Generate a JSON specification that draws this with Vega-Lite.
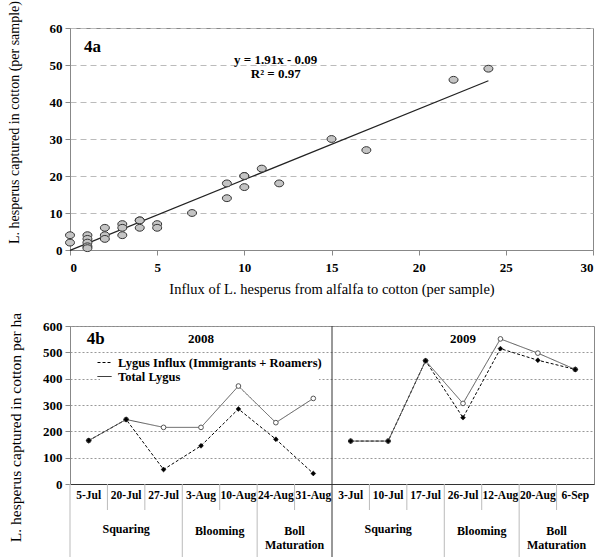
{
  "$schema": "https://vega.github.io/schema/vega-lite/v6.json",
  "padding": {"left": 6, "top": 0, "right": 0, "bottom": 0},
  "background": "white",
  "config": {
    "font": "Liberation Serif",
    "view": {"stroke": "#888"},
    "axis": {
      "labelFont": "Liberation Serif", "labelFontWeight": "bold", "labelFontSize": 13, "labelColor": "#000",
      "titleFont": "Liberation Serif", "titleFontWeight": "normal", "titleFontSize": 16, "titleColor": "#000",
      "domainColor": "#888", "tickColor": "#888", "tickSize": 5
    }
  },
  "datasets": {
    "scatter": [
      {"influx": 0, "captured": 4}, {"influx": 0, "captured": 2},
      {"influx": 1, "captured": 4}, {"influx": 1, "captured": 3}, {"influx": 1, "captured": 2}, {"influx": 1, "captured": 1}, {"influx": 1, "captured": 0.5},
      {"influx": 2, "captured": 6}, {"influx": 2, "captured": 4}, {"influx": 2, "captured": 3},
      {"influx": 3, "captured": 7}, {"influx": 3, "captured": 6}, {"influx": 3, "captured": 4},
      {"influx": 4, "captured": 8}, {"influx": 4, "captured": 8}, {"influx": 4, "captured": 6},
      {"influx": 5, "captured": 7}, {"influx": 5, "captured": 6},
      {"influx": 7, "captured": 10},
      {"influx": 9, "captured": 18}, {"influx": 9, "captured": 14},
      {"influx": 10, "captured": 20}, {"influx": 10, "captured": 20}, {"influx": 10, "captured": 17},
      {"influx": 11, "captured": 22},
      {"influx": 12, "captured": 18},
      {"influx": 15, "captured": 30},
      {"influx": 17, "captured": 27},
      {"influx": 22, "captured": 46},
      {"influx": 24, "captured": 49}
    ],
    "fit": [{"influx": 0, "captured": -0.09}, {"influx": 24, "captured": 45.75}],
    "dates": [
      {"d": "5-Jul"}, {"d": "20-Jul"}, {"d": "27-Jul"}, {"d": "3-Aug"}, {"d": "10-Aug"}, {"d": "24-Aug"}, {"d": "31-Aug"},
      {"d": "3-Jul"}, {"d": "10-Jul"}, {"d": "17-Jul"}, {"d": "26-Jul"}, {"d": "12-Aug"}, {"d": "20-Aug"}, {"d": "6-Sep"}
    ],
    "lygus": [
      {"series": "Lygus Influx (Immigrants + Roamers)", "year": "2008", "date": "5-Jul", "value": 165},
      {"series": "Lygus Influx (Immigrants + Roamers)", "year": "2008", "date": "20-Jul", "value": 245},
      {"series": "Lygus Influx (Immigrants + Roamers)", "year": "2008", "date": "27-Jul", "value": 55},
      {"series": "Lygus Influx (Immigrants + Roamers)", "year": "2008", "date": "3-Aug", "value": 145},
      {"series": "Lygus Influx (Immigrants + Roamers)", "year": "2008", "date": "10-Aug", "value": 285},
      {"series": "Lygus Influx (Immigrants + Roamers)", "year": "2008", "date": "24-Aug", "value": 170},
      {"series": "Lygus Influx (Immigrants + Roamers)", "year": "2008", "date": "31-Aug", "value": 40},
      {"series": "Total Lygus", "year": "2008", "date": "5-Jul", "value": 165},
      {"series": "Total Lygus", "year": "2008", "date": "20-Jul", "value": 245},
      {"series": "Total Lygus", "year": "2008", "date": "27-Jul", "value": 215},
      {"series": "Total Lygus", "year": "2008", "date": "3-Aug", "value": 215},
      {"series": "Total Lygus", "year": "2008", "date": "10-Aug", "value": 372},
      {"series": "Total Lygus", "year": "2008", "date": "24-Aug", "value": 233},
      {"series": "Total Lygus", "year": "2008", "date": "31-Aug", "value": 325},
      {"series": "Lygus Influx (Immigrants + Roamers)", "year": "2009", "date": "3-Jul", "value": 163},
      {"series": "Lygus Influx (Immigrants + Roamers)", "year": "2009", "date": "10-Jul", "value": 163},
      {"series": "Lygus Influx (Immigrants + Roamers)", "year": "2009", "date": "17-Jul", "value": 468},
      {"series": "Lygus Influx (Immigrants + Roamers)", "year": "2009", "date": "26-Jul", "value": 252},
      {"series": "Lygus Influx (Immigrants + Roamers)", "year": "2009", "date": "12-Aug", "value": 514},
      {"series": "Lygus Influx (Immigrants + Roamers)", "year": "2009", "date": "20-Aug", "value": 470},
      {"series": "Lygus Influx (Immigrants + Roamers)", "year": "2009", "date": "6-Sep", "value": 435},
      {"series": "Total Lygus", "year": "2009", "date": "3-Jul", "value": 163},
      {"series": "Total Lygus", "year": "2009", "date": "10-Jul", "value": 163},
      {"series": "Total Lygus", "year": "2009", "date": "17-Jul", "value": 468},
      {"series": "Total Lygus", "year": "2009", "date": "26-Jul", "value": 306},
      {"series": "Total Lygus", "year": "2009", "date": "12-Aug", "value": 551},
      {"series": "Total Lygus", "year": "2009", "date": "20-Aug", "value": 497},
      {"series": "Total Lygus", "year": "2009", "date": "6-Sep", "value": 435}
    ]
  },
  "spacing": 76,
  "bounds": "flush",
  "vconcat": [
    {
      "width": 523,
      "height": 222,
      "layer": [
        {
          "data": {"name": "fit"},
          "mark": {"type": "line", "color": "#222", "strokeWidth": 1.2},
          "encoding": {
            "x": {"field": "influx", "type": "quantitative", "scale": {"domain": [0, 30], "nice": false},
              "axis": {"values": [0, 5, 10, 15, 20, 25, 30], "grid": false, "labelPadding": 6, "titlePadding": 8, "titleFontSize": 14.5,
                "title": "Influx of L. hesperus from alfalfa to cotton (per sample)"}},
            "y": {"field": "captured", "type": "quantitative", "scale": {"domain": [0, 60], "nice": false},
              "axis": {"values": [0, 10, 20, 30, 40, 50, 60], "tickCount": 7, "labelOverlap": false, "grid": true, "gridDash": [6, 4], "gridColor": "#bbb",
                "labelPadding": 3, "titlePadding": 28, "titleY": 94, "titleFontSize": 14,
                "title": "L. hesperus captured in cotton (per sample)"}}
          }
        },
        {
          "data": {"name": "scatter"},
          "mark": {"type": "point", "filled": true, "fill": "#c4c4c4", "stroke": "#333", "strokeWidth": 1, "size": 81, "opacity": 1,
            "shape": "M-1,0A1,0.76 0 1,1 1,0A1,0.76 0 1,1 -1,0Z"},
          "encoding": {
            "x": {"field": "influx", "type": "quantitative"},
            "y": {"field": "captured", "type": "quantitative"}
          }
        },
        {
          "data": {"values": [{"label": "4a", "px": 0.8, "py": 55}]},
          "mark": {"type": "text", "align": "left", "baseline": "middle", "fontSize": 17, "fontWeight": "bold", "font": "Liberation Serif", "color": "#000"},
          "encoding": {
            "x": {"field": "px", "type": "quantitative"},
            "y": {"field": "py", "type": "quantitative"},
            "text": {"field": "label"}
          }
        },
        {
          "data": {"values": [{"label": "y = 1.91x - 0.09", "px": 11.8, "py": 51.4}, {"label": "R² = 0.97", "px": 11.8, "py": 47.5}]},
          "mark": {"type": "text", "align": "center", "baseline": "middle", "fontSize": 13, "fontWeight": "bold", "font": "Liberation Serif", "color": "#000"},
          "encoding": {
            "x": {"field": "px", "type": "quantitative"},
            "y": {"field": "py", "type": "quantitative"},
            "text": {"field": "label"}
          }
        }
      ]
    },
    {
      "spacing": 0,
      "bounds": "flush",
      "vconcat": [
        {
          "width": 524,
          "height": 158,
          "data": {"name": "lygus"},
          "layer": [
            {
              "data": {"values": [{"d": "3-Jul"}]},
              "mark": {"type": "rule", "color": "#333", "strokeWidth": 1},
              "encoding": {
                "x": {"field": "d", "type": "ordinal", "bandPosition": 0}
              }
            },
            {
              "mark": {"type": "line", "strokeWidth": 1},
              "encoding": {
                "x": {"field": "date", "type": "ordinal", "bandPosition": 0.5, "sort": null,
                  "scale": {"type": "band", "domain": ["5-Jul", "20-Jul", "27-Jul", "3-Aug", "10-Aug", "24-Aug", "31-Aug", "3-Jul", "10-Jul", "17-Jul", "26-Jul", "12-Aug", "20-Aug", "6-Sep"], "paddingInner": 0, "paddingOuter": 0},
                  "axis": {"title": null, "labels": false, "ticks": false, "domainColor": "#333", "grid": false}},
                "y": {"field": "value", "type": "quantitative", "scale": {"domain": [0, 600], "nice": false},
                  "axis": {"values": [0, 100, 200, 300, 400, 500, 600], "tickCount": 7, "labelOverlap": false, "grid": true, "gridDash": [2, 2], "gridColor": "#999",
                    "labelPadding": 3, "titlePadding": 19, "titleY": 101, "titleFontSize": 15.5,
                    "title": "L. hesperus captured in cotton per ha"}},
                "strokeDash": {"field": "series", "type": "nominal",
                  "scale": {"domain": ["Lygus Influx (Immigrants + Roamers)", "Total Lygus"], "range": [[3, 2], [1, 0]]},
                  "legend": {
                    "title": null, "orient": "none", "legendX": 30, "legendY": 330,
                    "labelFont": "Liberation Serif", "labelFontWeight": "bold", "labelFontSize": 12.5, "labelColor": "#000", "labelLimit": 0,
                    "symbolType": "stroke", "symbolSize": 196, "symbolStrokeWidth": 1, "symbolStrokeColor": "#000",
                    "labelOffset": 6, "rowPadding": 0, "padding": -3, "fillColor": "white"
                  }},
                "color": {"condition": {"test": "datum.series === 'Total Lygus'", "value": "#555"}, "value": "#000"},
                "detail": {"field": "year"},
                "order": {"value": null}
              }
            },
            {
              "transform": [{"filter": "datum.series === 'Total Lygus'"}],
              "mark": {"type": "point", "shape": "circle", "filled": true, "fill": "white", "stroke": "#555", "strokeWidth": 1, "size": 22, "opacity": 1},
              "encoding": {
                "x": {"field": "date", "type": "ordinal", "bandPosition": 0.5},
                "y": {"field": "value", "type": "quantitative"}
              }
            },
            {
              "transform": [{"filter": "datum.series !== 'Total Lygus'"}],
              "mark": {"type": "point", "shape": "diamond", "filled": true, "fill": "black", "stroke": "black", "strokeWidth": 0.5, "size": 24, "opacity": 1},
              "encoding": {
                "x": {"field": "date", "type": "ordinal", "bandPosition": 0.5},
                "y": {"field": "value", "type": "quantitative"}
              }
            },
            {
              "data": {"values": [{"t": "2008", "d": "3-Aug", "v": 550}, {"t": "2009", "d": "26-Jul", "v": 550}]},
              "mark": {"type": "text", "align": "center", "baseline": "middle", "fontSize": 13, "fontWeight": "bold", "font": "Liberation Serif", "color": "#000"},
              "encoding": {
                "x": {"field": "d", "type": "ordinal", "bandPosition": 0.5},
                "y": {"field": "v", "type": "quantitative"},
                "text": {"field": "t"}
              }
            },
            {
              "data": {"values": [{"t": "4b", "d": "5-Jul", "v": 550}]},
              "mark": {"type": "text", "align": "left", "baseline": "middle", "fontSize": 17, "fontWeight": "bold", "font": "Liberation Serif", "color": "#000", "dx": -2},
              "encoding": {
                "x": {"field": "d", "type": "ordinal", "bandPosition": 0.5},
                "y": {"field": "v", "type": "quantitative"},
                "text": {"field": "t"}
              }
            }
          ]
        },
        {
          "width": 524,
          "height": 26,
          "view": {"stroke": null},
          "data": {"name": "dates"},
          "layer": [
            {
              "mark": {"type": "rule", "strokeWidth": 1},
              "encoding": {
                "x": {"field": "d", "type": "ordinal", "bandPosition": 0, "axis": null,
                  "scale": {"type": "band", "domain": ["5-Jul", "20-Jul", "27-Jul", "3-Aug", "10-Aug", "24-Aug", "31-Aug", "3-Jul", "10-Jul", "17-Jul", "26-Jul", "12-Aug", "20-Aug", "6-Sep"], "paddingInner": 0, "paddingOuter": 0}},
                "color": {"condition": {"test": "datum.d === '3-Jul'", "value": "#333"}, "value": "#bbb"}
              }
            },
            {
              "mark": {"type": "text", "align": "center", "baseline": "middle", "fontSize": 11.5, "fontWeight": "bold", "font": "Liberation Serif", "color": "#000", "dy": -1},
              "encoding": {
                "x": {"field": "d", "type": "ordinal", "bandPosition": 0.5, "axis": null},
                "text": {"field": "d"}
              }
            }
          ]
        },
        {
          "width": 524,
          "height": 47,
          "view": {"stroke": null},
          "layer": [
            {
              "data": {"values": [{"d": "5-Jul"}, {"d": "3-Aug"}, {"d": "24-Aug"}, {"d": "3-Jul"}, {"d": "26-Jul"}, {"d": "20-Aug"}]},
              "mark": {"type": "rule", "strokeWidth": 1},
              "encoding": {
                "x": {"field": "d", "type": "ordinal", "bandPosition": 0, "axis": null,
                  "scale": {"type": "band", "domain": ["5-Jul", "20-Jul", "27-Jul", "3-Aug", "10-Aug", "24-Aug", "31-Aug", "3-Jul", "10-Jul", "17-Jul", "26-Jul", "12-Aug", "20-Aug", "6-Sep"], "paddingInner": 0, "paddingOuter": 0}},
                "color": {"condition": {"test": "datum.d === '3-Jul'", "value": "#333"}, "value": "#bbb"}
              }
            },
            {
              "data": {"values": [{"stage": "Squaring", "d": "20-Jul"}, {"stage": "Squaring", "d": "10-Jul"}]},
              "mark": {"type": "text", "align": "center", "baseline": "middle", "fontSize": 12, "fontWeight": "bold", "font": "Liberation Serif", "color": "#000", "dy": -5},
              "encoding": {
                "x": {"field": "d", "type": "ordinal", "bandPosition": 0.5, "axis": null},
                "text": {"field": "stage"}
              }
            },
            {
              "data": {"values": [{"stage": "Blooming", "d": "3-Aug"}, {"stage": "Boll\nMaturation", "d": "24-Aug"}, {"stage": "Blooming", "d": "26-Jul"}, {"stage": "Boll\nMaturation", "d": "20-Aug"}]},
              "mark": {"type": "text", "align": "center", "baseline": "middle", "fontSize": 12, "fontWeight": "bold", "font": "Liberation Serif", "color": "#000", "lineBreak": "\n", "dy": -3},
              "encoding": {
                "x": {"field": "d", "type": "ordinal", "bandPosition": 1, "axis": null},
                "text": {"field": "stage"}
              }
            }
          ]
        }
      ]
    }
  ]
}
